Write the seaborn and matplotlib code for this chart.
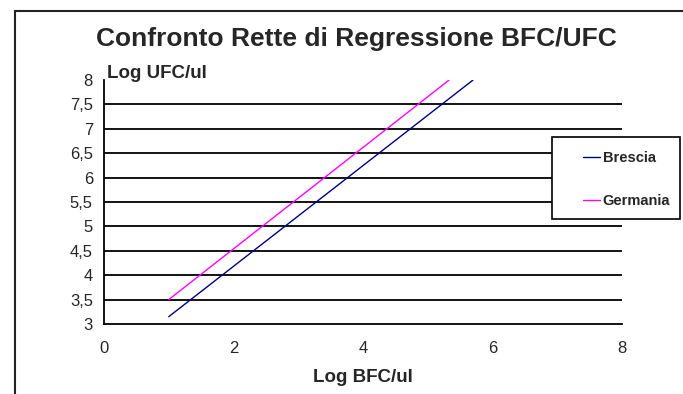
import matplotlib
matplotlib.use("Agg")
import matplotlib.pyplot as plt
import seaborn as sns
import pandas as pd
from matplotlib.patches import Rectangle
from matplotlib.lines import Line2D

# Data
series_names = ["Brescia", "Germania"]
brescia_x = [1.0, 5.7]
brescia_y = [3.15, 8.0]
germania_x = [1.0, 5.33]
germania_y = [3.5, 8.0]
colors = ["#000080", "#FF00FF"]
y_ticks = [3, 3.5, 4, 4.5, 5, 5.5, 6, 6.5, 7, 7.5, 8]
y_tick_labels = ["3", "3,5", "4", "4,5", "5", "5,5", "6", "6,5", "7", "7,5", "8"]
x_ticks = [0, 2, 4, 6, 8]

df = pd.concat([
    pd.DataFrame({"x": brescia_x, "y": brescia_y, "serie": "Brescia"}),
    pd.DataFrame({"x": germania_x, "y": germania_y, "serie": "Germania"}),
], ignore_index=True)

sns.set_style("white")
plt.rcParams["font.family"] = ["Liberation Sans", "DejaVu Sans"]

W, H = 683, 394
fig = plt.figure(figsize=(W / 100, H / 100), dpi=100)
fig.patch.set_facecolor("white")

# outer chart border
fig.add_artist(Rectangle((15 / W, -0.1), 1.2, 1 - 11 / H + 0.1, transform=fig.transFigure,
                         fill=False, edgecolor="#222222", linewidth=1.5))

ax = fig.add_axes([104 / W, 1 - 324 / H, (622 - 104) / W, (324 - 80) / H])
ax.set_facecolor("white")

for yv in y_ticks[1:-1]:
    ax.axhline(yv, color="black", linewidth=1.3, zorder=1)

sns.lineplot(data=df, x="x", y="y", hue="serie", hue_order=series_names,
             palette=dict(zip(series_names, colors)), linewidth=1.0, ax=ax,
             legend=False, zorder=3)

ax.set_xlim(0, 8)
ax.set_ylim(3, 8)
ax.set_xticks(x_ticks)
ax.set_xticklabels([str(v) for v in x_ticks], fontsize=12)
ax.set_yticks(y_ticks)
ax.set_yticklabels(y_tick_labels, fontsize=12)
ax.tick_params(axis="both", direction="out", length=4, width=1, color="black", pad=4)
ax.tick_params(axis="x", pad=8)
for s in ["top", "right"]:
    ax.spines[s].set_visible(False)
for s in ["left", "bottom"]:
    ax.spines[s].set_color("black")
    ax.spines[s].set_linewidth(1.3)

ax.set_xlabel("")
ax.set_ylabel("")
fig.text(363 / W, 1 - 378 / H, "Log BFC/ul", ha="center", va="center",
         fontsize=13.5, fontweight="bold")
fig.text(107 / W, 1 - 73 / H, "Log UFC/ul", ha="left", va="center",
         fontsize=13.5, fontweight="bold")
fig.text(356 / W, 1 - 39 / H, "Confronto Rette di Regressione BFC/UFC", ha="center",
         va="center", fontsize=19, fontweight="bold")

# legend box
fig.add_artist(Rectangle((552 / W, 1 - 219 / H), (680 - 552) / W, (219 - 137) / H,
                         transform=fig.transFigure, facecolor="white",
                         edgecolor="black", linewidth=1.2, zorder=5))
handles = [Line2D([0], [0], color=c, linewidth=1.0) for c in colors]
leg = fig.legend(handles, series_names, loc="upper left",
                 bbox_to_anchor=(583 / W, 1 - 151 / H), bbox_transform=fig.transFigure,
                 frameon=False, handlelength=1.15, handletextpad=0.2,
                 labelspacing=2.0, fontsize=10.5, borderpad=0, borderaxespad=0)
leg.set_zorder(6)
for t in leg.get_texts():
    t.set_fontweight("bold")

fig.savefig("out.png", dpi=100)
